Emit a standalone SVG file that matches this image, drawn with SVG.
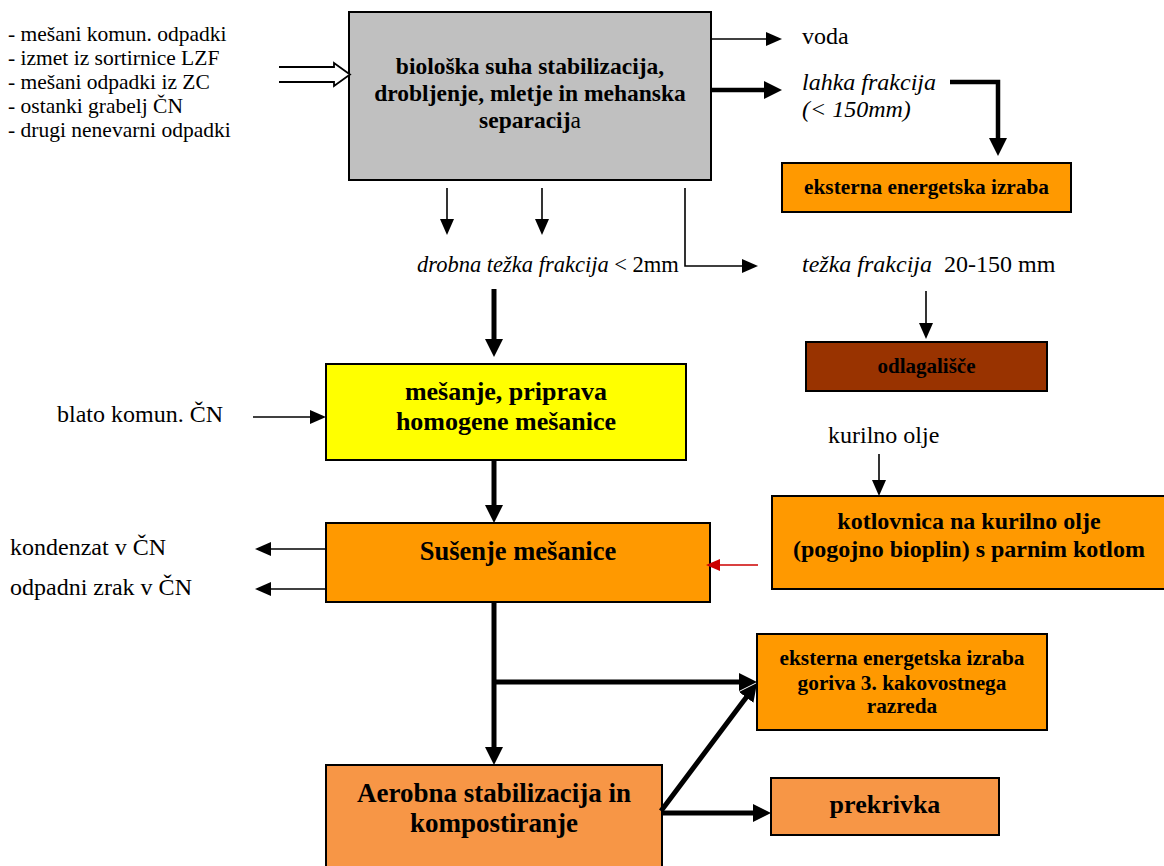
<svg xmlns="http://www.w3.org/2000/svg" width="1164" height="866" viewBox="0 0 1164 866" font-family="'Liberation Serif', 'DejaVu Serif', 'Times New Roman', serif">
<style>
text{font-family:'Liberation Serif','DejaVu Serif','Times New Roman',serif;fill:#000}
.lbl{font-size:24px}
.lst{font-size:21.5px}
.it{font-style:italic}
.b{font-weight:bold;text-anchor:middle}
.box{stroke:#000;stroke-width:2}
.thin{stroke:#000;stroke-width:1.6;fill:none;marker-end:url(#ah)}
.thick{stroke:#000;stroke-width:5;fill:none;marker-end:url(#ahT)}
.red{stroke:#CC0000;stroke-width:1.6;fill:none;marker-end:url(#ahR)}
</style>
<defs>
<marker id="ah" viewBox="0 0 16 14" refX="2" refY="7" markerWidth="16" markerHeight="14" markerUnits="userSpaceOnUse" orient="auto"><path d="M0,0 L16,7 L0,14 z" fill="#000"/></marker>
<marker id="ahT" viewBox="0 0 18 18" refX="4" refY="9" markerWidth="18" markerHeight="18" markerUnits="userSpaceOnUse" orient="auto"><path d="M0,0 L18,9 L0,18 z" fill="#000"/></marker>
<marker id="ahR" viewBox="0 0 14 12" refX="2" refY="6" markerWidth="14" markerHeight="12" markerUnits="userSpaceOnUse" orient="auto"><path d="M0,0 L14,6 L0,12 z" fill="#CC0000"/></marker>
</defs>

<g id="inputs">
<text class="lst" x="8" y="41">- mešani komun. odpadki</text>
<text class="lst" x="8" y="65">- izmet iz sortirnice LZF</text>
<text class="lst" x="8" y="89">- mešani odpadki iz ZC</text>
<text class="lst" x="8" y="113">- ostanki grabelj ČN</text>
<text class="lst" x="8" y="137">- drugi nenevarni odpadki</text>
</g>

<g id="node-bio">
<rect class="box" x="349" y="12" width="362" height="168" fill="#C0C0C0"/>
<text class="b" x="530" y="74" font-size="23.5">biološka suha stabilizacija,</text>
<text class="b" x="530" y="101" font-size="23.5">drobljenje, mletje in mehanska</text>
<text class="b" x="530" y="128" font-size="23.5">separacij<tspan font-weight="normal">a</tspan></text>
</g>

<g id="labels">
<text class="lbl" x="802" y="44">voda</text>
<text class="lbl it" x="802" y="90">lahka frakcija</text>
<text class="lbl it" x="802" y="117">(&lt; 150mm)</text>
<text x="417" y="272" font-size="22.5"><tspan font-style="italic">drobna težka frakcija</tspan> &lt; 2mm</text>
<text class="lbl" x="802" y="272"><tspan font-style="italic">težka frakcija</tspan><tspan dx="12">20-150 mm</tspan></text>
<text class="lbl" x="57" y="422">blato komun. ČN</text>
<text class="lbl" x="828" y="443">kurilno olje</text>
<text class="lbl" x="10" y="555">kondenzat v ČN</text>
<text class="lbl" x="10" y="595">odpadni zrak v ČN</text>
</g>

<g id="node-eksterna1">
<rect class="box" x="782" y="163" width="289" height="49" fill="#FF9900"/>
<text class="b" x="926.5" y="194" font-size="21.3">eksterna energetska izraba</text>
</g>

<g id="node-odlagalisce">
<rect class="box" x="806" y="342" width="241" height="49" fill="#993300"/>
<text class="b" x="926.5" y="373" font-size="21">odlagališče</text>
</g>

<g id="node-mesanje">
<rect class="box" x="326" y="364" width="360" height="96" fill="#FFFF00"/>
<text class="b" x="506" y="400" font-size="26">mešanje, priprava</text>
<text class="b" x="506" y="430" font-size="26">homogene mešanice</text>
</g>

<g id="node-susenje">
<rect class="box" x="326" y="523" width="384" height="79" fill="#FF9900"/>
<text class="b" x="518" y="560" font-size="26.5">Sušenje mešanice</text>
</g>

<g id="node-kotlovnica">
<rect class="box" x="772" y="496" width="400" height="93" fill="#FF9900"/>
<text class="b" x="969" y="529" font-size="24">kotlovnica na kurilno olje</text>
<text class="b" x="969" y="557" font-size="24">(pogojno bioplin) s parnim kotlom</text>
</g>

<g id="node-eksterna2">
<rect class="box" x="757" y="634" width="290" height="96" fill="#FF9900"/>
<text class="b" x="902" y="665" font-size="21.3">eksterna energetska izraba</text>
<text class="b" x="902" y="690" font-size="21.3">goriva 3. kakovostnega</text>
<text class="b" x="902" y="713" font-size="21.3">razreda</text>
</g>

<g id="node-aerobna">
<rect class="box" x="326" y="765" width="336" height="115" fill="#F79646"/>
<text class="b" x="494" y="802" font-size="27">Aerobna stabilizacija in</text>
<text class="b" x="494" y="832" font-size="27">kompostiranje</text>
</g>

<g id="node-prekrivka">
<rect class="box" x="771" y="778" width="228" height="57" fill="#F79646"/>
<text class="b" x="885" y="813" font-size="26">prekrivka</text>
</g>

<g id="connectors">
<path d="M279,67 H334 V63 L350,74.5 L334,86 V82 H279" fill="#fff" stroke="#000" stroke-width="1.8"/>
<path class="thin" d="M711,39 H768"/>
<path class="thick" d="M711,90 H768" style="stroke-width:4.5"/>
<path class="thick" d="M950,82 H998 V142" style="stroke-width:4.5"/>
<path class="thin" d="M447,188 V221"/>
<path class="thin" d="M542,188 V221"/>
<path class="thin" d="M685,188 V266 H744"/>
<path class="thick" d="M494,289 V343"/>
<path class="thin" d="M926,291 V325"/>
<path class="thin" d="M253,417 H312"/>
<path class="thick" d="M494,460 V509"/>
<path class="thin" d="M326,549 H269"/>
<path class="thin" d="M326,589 H269"/>
<path class="thin" d="M879,454 V482"/>
<path class="red" d="M758,565 H718"/>
<path class="thick" d="M494,603 V751"/>
<path class="thick" d="M494,682 H743"/>
<path class="thick" d="M661,811 L748.6,694.2"/>
<path class="thick" d="M661,813 H757"/>
</g>
</svg>
